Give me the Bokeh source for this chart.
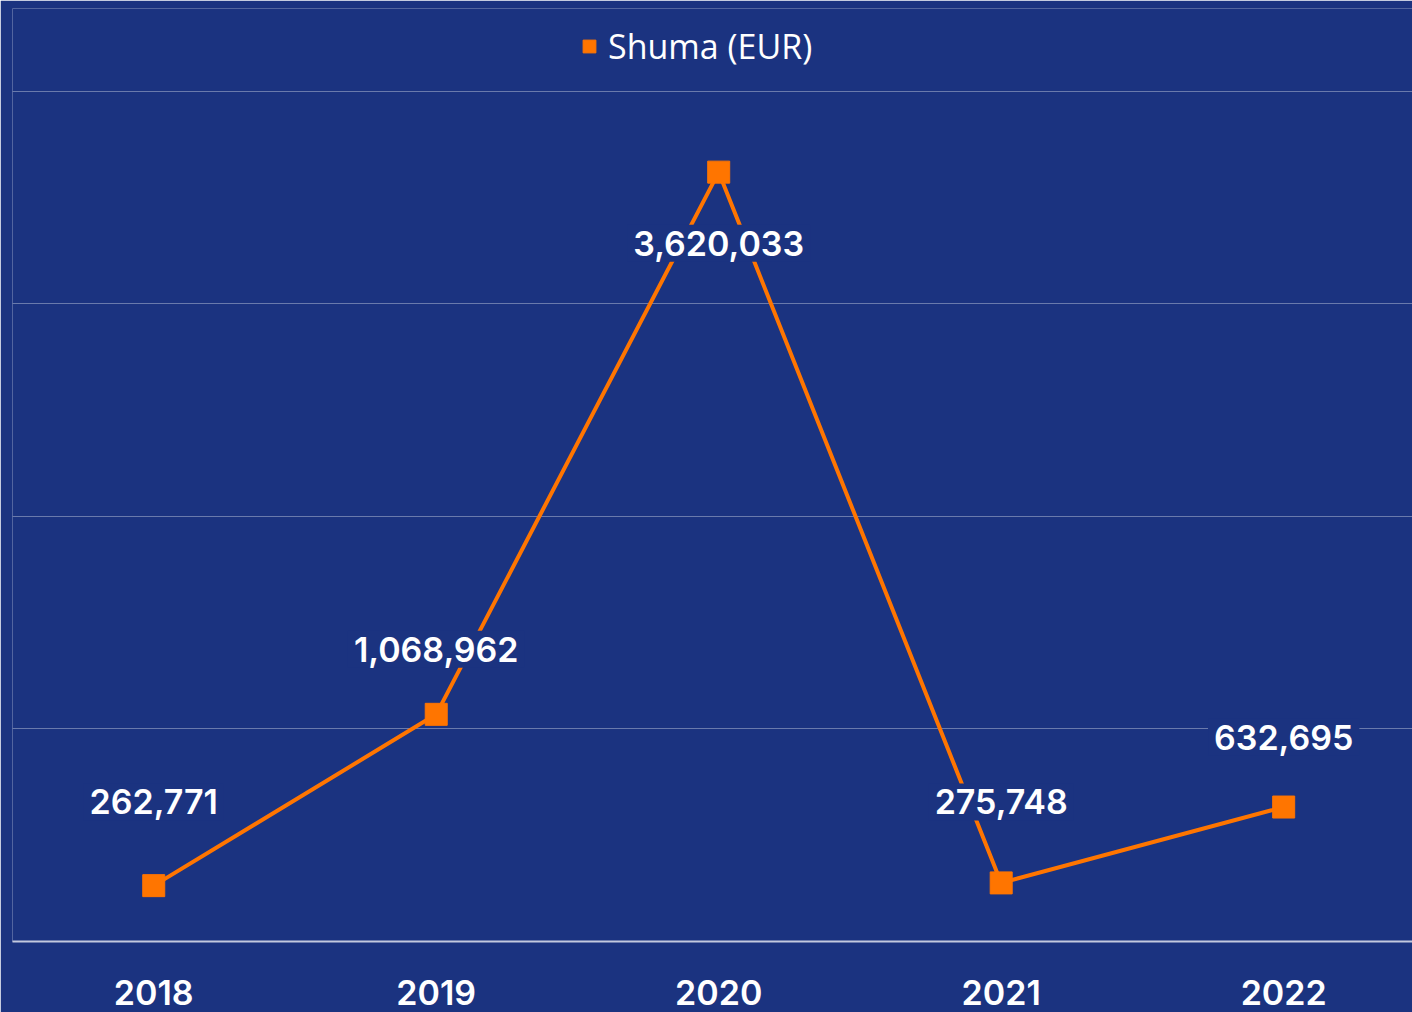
from bokeh.plotting import figure
from bokeh.models import (ColumnDataSource, Legend, LegendItem,
                          FixedTicker, Range1d)
from bokeh.core.properties import value
from bokeh.embed import file_html
from bokeh.resources import INLINE

# ---- data ----
years = ["2018", "2019", "2020", "2021", "2022"]
amounts = [262771, 1068962, 3620033, 275748, 632695]
series_name = "Shuma (EUR)"

# label offsets (style only, screen pixels; positive = up)
label_offsets = [84, 65, -71, 81, 70]

BG = "#1b3380"
ORANGE = "#ff7500"
LABEL_FONT = "Inter SemiBold, Inter"

xs = list(range(len(years)))
src = ColumnDataSource(dict(
    x=xs, y=amounts,
    label=[f"{v:,}" for v in amounts],
    off=[-o for o in label_offsets],
))

p = figure(width=1412, height=1012, output_backend="svg", toolbar_location=None,
           x_range=Range1d(-0.5, 4.456), y_range=Range1d(0, 4.39e6),
           background_fill_color=BG, border_fill_color=BG,
           min_border_left=12, min_border_right=0, min_border_top=8,
           min_border_bottom=71)
p.outline_line_color = None

line_r = p.line("x", "y", source=src, line_color=ORANGE, line_width=4)
mark_r = p.scatter("x", "y", source=src, marker="square", size=22,
                   fill_color=ORANGE, line_color=ORANGE)

txt = p.text("x", "y", text="label", source=src, y_offset="off",
             text_align="center", text_baseline="middle",
             text_color="white", text_font=value(LABEL_FONT),
             text_font_size="34px",
             background_fill_color=BG, padding=6)

# axes
p.yaxis.visible = False
p.ygrid.ticker = FixedTicker(ticks=[1e6, 2e6, 3e6, 4e6])
p.ygrid.grid_line_color = "#ffffff"
p.ygrid.grid_line_alpha = 0.35
p.ygrid.grid_line_width = 1
p.xgrid.visible = False

xa = p.xaxis[0]
xa.ticker = FixedTicker(ticks=xs)
xa.major_label_overrides = {i: y for i, y in zip(xs, years)}
xa.axis_line_color = "#c3c9de"
xa.axis_line_width = 2
xa.major_tick_line_color = None
xa.minor_tick_line_color = None
xa.major_label_text_color = "white"
xa.major_label_text_font = LABEL_FONT
xa.major_label_text_font_size = "34px"
xa.major_label_standoff = 32

# legend: square only
leg_r = p.scatter([-10], [-10], marker="square", size=13,
                  fill_color=ORANGE, line_color=ORANGE)
legend = Legend(items=[LegendItem(label=series_name, renderers=[leg_r])],
                location=(561, 872), orientation="horizontal",
                background_fill_alpha=0, border_line_color=None,
                label_text_color="white", label_text_font="Open Sans",
                label_text_font_size="34px", glyph_width=32, glyph_height=32,
                label_standoff=3, margin=0, padding=0)
p.add_layout(legend)

open("out.html", "w").write(file_html(p, INLINE))
